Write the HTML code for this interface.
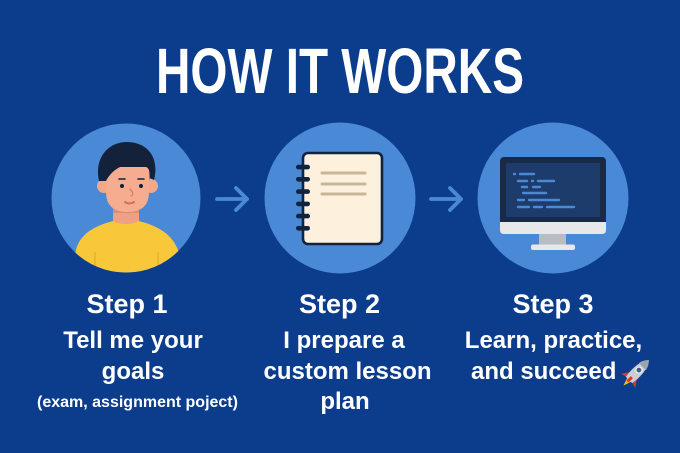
<!DOCTYPE html>
<html>
<head>
<meta charset="utf-8">
<style>
  html,body{margin:0;padding:0;background:#0c3d8c;}
  svg{display:block;}
  text{font-family:"Liberation Sans", "DejaVu Sans", sans-serif;font-weight:bold;fill:#ffffff;}
</style>
</head>
<body>
<svg width="680" height="453" viewBox="0 0 680 453" xmlns="http://www.w3.org/2000/svg">
  <defs>
    <clipPath id="c1"><circle cx="126" cy="198" r="74.5"/></clipPath>
  </defs>
  <rect x="0" y="0" width="680" height="453" fill="#0c3d8c"/>

  <!-- Title -->
  <text x="340" y="93" font-size="64" text-anchor="middle" transform="translate(340 0) scale(0.745 1) translate(-340 0)">HOW IT WORKS</text>

  <!-- Circles -->
  <circle cx="126" cy="198" r="74.5" fill="#4a89d5"/>
  <circle cx="340" cy="198" r="75.5" fill="#4a89d5"/>
  <circle cx="553" cy="198" r="75.5" fill="#4a89d5"/>

  <!-- Person -->
  <g clip-path="url(#c1)">
    <!-- neck -->
    <rect x="113" y="202" width="26" height="24" fill="#eea184"/>
    <rect x="113" y="206" width="26" height="7" fill="#e08c70"/>
    <!-- shirt -->
    <path d="M70,280 L76,250 C80,234 94,226 113,221 C120,225 132,225 139,221 C158,226 172,234 178,250 L184,280 Z" fill="#f8c83a"/>
    <line x1="95" y1="252" x2="95" y2="266" stroke="#e4ad24" stroke-width="1.2"/>
    <line x1="158" y1="252" x2="158" y2="266" stroke="#e4ad24" stroke-width="1.2"/>
    <!-- ears -->
    <circle cx="104" cy="186" r="7" fill="#f3a88a"/>
    <circle cx="151" cy="186" r="7" fill="#f3a88a"/>
    <!-- face -->
    <path d="M106,165 L149,165 L149,192 Q149,212 127.5,212 Q106,212 106,192 Z" fill="#f6ad8f"/>
    <!-- hair -->
    <path d="M99,181 C94,158 108,142 127,142 C146,142 160,156 154,180 L150,178 C150,172 149,168 146,167 L120,167 C114,170 109,175 106,181 Z" fill="#13223a"/>
    <!-- eyebrows -->
    <line x1="119" y1="179" x2="125" y2="179" stroke="#13223a" stroke-width="1.6" stroke-linecap="round"/>
    <line x1="138" y1="179" x2="144" y2="179" stroke="#13223a" stroke-width="1.6" stroke-linecap="round"/>
    <!-- eyes -->
    <circle cx="122" cy="186" r="2" fill="#13223a"/>
    <circle cx="141" cy="186" r="2" fill="#13223a"/>
    <!-- nose -->
    <path d="M130,189 Q135,194 131,196" fill="none" stroke="#d47f66" stroke-width="1.3" stroke-linecap="round"/>
    <!-- mouth -->
    <path d="M125,202 Q129.5,205 134,202" fill="none" stroke="#d86e58" stroke-width="2" stroke-linecap="round"/>
  </g>

  <!-- Notebook -->
  <rect x="303" y="153" width="79" height="91" rx="5" fill="#fdf0dc" stroke="#10233f" stroke-width="2.6"/>
  <g fill="#10233f">
    <rect x="296" y="164.8" width="14" height="4.6" rx="2.3"/>
    <rect x="296" y="177" width="14" height="4.6" rx="2.3"/>
    <rect x="296" y="189.3" width="14" height="4.6" rx="2.3"/>
    <rect x="296" y="201.6" width="14" height="4.6" rx="2.3"/>
    <rect x="296" y="213.8" width="14" height="4.6" rx="2.3"/>
    <rect x="296" y="226" width="14" height="4.6" rx="2.3"/>
  </g>
  <g stroke="#c7b69a" stroke-width="3" stroke-linecap="round">
    <line x1="322" y1="173" x2="365" y2="173"/>
    <line x1="322" y1="184" x2="365" y2="184"/>
    <line x1="322" y1="194" x2="365" y2="194"/>
  </g>

  <!-- Monitor -->
  <rect x="500" y="157" width="106" height="72" rx="4" fill="#172a48"/>
  <rect x="506" y="163" width="94" height="54" fill="#1d3b6b"/>
  <path d="M500,222 L606,222 L606,230 Q606,234 602,234 L504,234 Q500,234 500,230 Z" fill="#e7e8ea"/>
  <rect x="539" y="234" width="27" height="11" fill="#b8bcc3"/>
  <rect x="531" y="244.5" width="44" height="5.5" rx="2" fill="#e7e8ea"/>
  <g stroke="#4a89d5" stroke-width="2.4" stroke-linecap="round">
    <line x1="514" y1="174" x2="515" y2="174"/>
    <line x1="520" y1="174" x2="534" y2="174"/>
    <line x1="518" y1="181" x2="527" y2="181"/>
    <line x1="532" y1="181" x2="533" y2="181"/>
    <line x1="538" y1="181" x2="554" y2="181"/>
    <line x1="522" y1="187" x2="527" y2="187"/>
    <line x1="533" y1="187" x2="540" y2="187"/>
    <line x1="523" y1="193" x2="546" y2="193"/>
    <line x1="518" y1="200" x2="524" y2="200"/>
    <line x1="529" y1="200" x2="559" y2="200"/>
    <line x1="518" y1="207" x2="529" y2="207"/>
    <line x1="534" y1="207" x2="542" y2="207"/>
    <line x1="547" y1="207" x2="574" y2="207"/>
  </g>

  <!-- Arrows -->
  <g fill="none" stroke="#4a89d5" stroke-width="3.8" stroke-linecap="round" stroke-linejoin="round">
    <line x1="217" y1="199" x2="247" y2="199"/>
    <polyline points="236,188 247,199 236,210"/>
    <line x1="431" y1="199" x2="461" y2="199"/>
    <polyline points="450,188 461,199 450,210"/>
  </g>

  <!-- Step 1 text -->
  <text x="127" y="313" font-size="27" text-anchor="middle">Step 1</text>
  <text x="133" y="348" font-size="24" text-anchor="middle">Tell me your</text>
  <text x="133" y="379" font-size="24" text-anchor="middle">goals</text>
  <text x="137.5" y="407" font-size="16" text-anchor="middle">(exam, assignment poject)</text>

  <!-- Step 2 text -->
  <text x="339.5" y="313" font-size="27" text-anchor="middle">Step 2</text>
  <text x="344" y="348" font-size="24" text-anchor="middle">I prepare a</text>
  <text x="347.5" y="379" font-size="24" text-anchor="middle">custom lesson</text>
  <text x="345" y="409" font-size="24" text-anchor="middle">plan</text>

  <!-- Step 3 text -->
  <text x="553" y="313" font-size="27" text-anchor="middle">Step 3</text>
  <text x="553.5" y="348" font-size="24" text-anchor="middle">Learn, practice,</text>
  <text x="471" y="379" font-size="24">and succeed</text>

  <!-- Rocket icon -->
  <g transform="translate(637.5 371.5) rotate(45)">
    <path d="M-5,6 L-10,13 L-5,12 Z" fill="#e0352b"/>
    <path d="M5,6 L10,13 L5,12 Z" fill="#e0352b"/>
    <path d="M-3,11 L0,20 L3,11 Z" fill="#f7c229"/>
    <path d="M-2.2,11 L0,16 L2.2,11 Z" fill="#f08a24"/>
    <path d="M0,-16 C6,-10 6,4 4.5,12 L-4.5,12 C-6,4 -6,-10 0,-16 Z" fill="#c9ced6"/>
    <path d="M0,-16 C3,-13 4.5,-10 5,-7 L-5,-7 C-4.5,-10 -3,-13 0,-16 Z" fill="#9aa3b0"/>
    <circle cx="0" cy="-2" r="3" fill="#3d5a80" stroke="#eef1f5" stroke-width="1.2"/>
    <rect x="-1.5" y="8" width="3" height="6" fill="#e0352b"/>
  </g>
</svg>
</body>
</html>
